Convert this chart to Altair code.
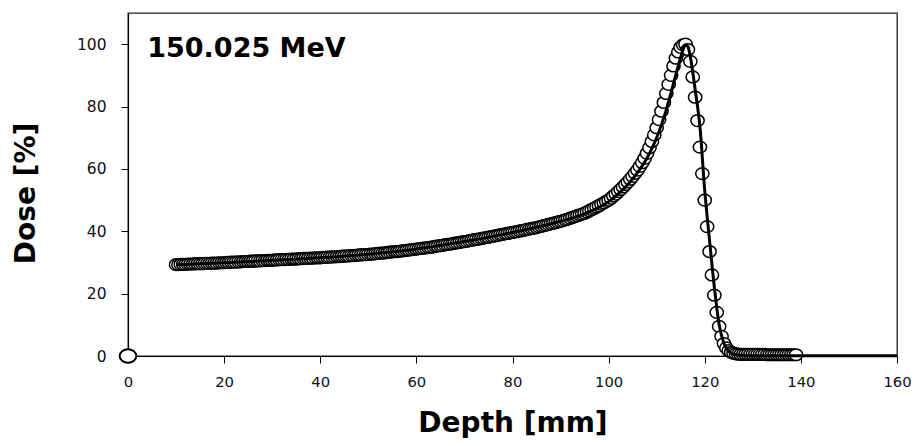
import altair as alt
import pandas as pd

# ---------------- data ----------------
# measured depth-dose points (open circles), 0.5 mm sampling from 10 mm
meas_start = 10.0
meas_step = 0.5
meas_dose = [
    29.3, 29.3, 29.4, 29.4, 29.4, 29.5, 29.5, 29.5, 29.6, 29.6,   # 10 - 14.5
    29.6, 29.6, 29.7, 29.7, 29.7, 29.8, 29.8, 29.8, 29.9, 29.9,   # 15 - 19.5
    29.9, 30.0, 30.0, 30.1, 30.1, 30.1, 30.2, 30.2, 30.3, 30.3,   # 20
    30.3, 30.4, 30.4, 30.5, 30.5, 30.5, 30.6, 30.6, 30.7, 30.7,   # 25
    30.7, 30.8, 30.8, 30.9, 30.9, 30.9, 31.0, 31.0, 31.1, 31.1,   # 30
    31.1, 31.2, 31.2, 31.3, 31.3, 31.3, 31.4, 31.4, 31.5, 31.5,   # 35
    31.5, 31.6, 31.6, 31.7, 31.7, 31.8, 31.8, 31.9, 31.9, 32.0,   # 40
    32.0, 32.1, 32.1, 32.2, 32.2, 32.3, 32.4, 32.4, 32.5, 32.5,   # 45
    32.6, 32.7, 32.7, 32.8, 32.9, 33.0, 33.0, 33.1, 33.2, 33.3,   # 50
    33.4, 33.5, 33.5, 33.6, 33.7, 33.8, 33.9, 34.0, 34.1, 34.2,   # 55
    34.3, 34.4, 34.5, 34.6, 34.7, 34.8, 34.9, 35.0, 35.2, 35.3,   # 60
    35.4, 35.5, 35.7, 35.8, 35.9, 36.0, 36.2, 36.3, 36.4, 36.6,   # 65
    36.7, 36.8, 37.0, 37.1, 37.3, 37.4, 37.5, 37.7, 37.8, 38.0,   # 70
    38.1, 38.3, 38.4, 38.6, 38.7, 38.9, 39.0, 39.2, 39.3, 39.5,   # 75
    39.6, 39.8, 39.9, 40.1, 40.2, 40.4, 40.6, 40.7, 40.9, 41.0,   # 80
    41.2, 41.4, 41.6, 41.8, 42.0, 42.2, 42.4, 42.6, 42.8, 43.0,   # 85
    43.2, 43.4, 43.7, 43.9, 44.2, 44.5, 44.7, 45.0, 45.3, 45.5,   # 90
    45.8, 46.2, 46.6, 47.0, 47.4, 47.8, 48.2, 48.7, 49.1, 49.6,   # 95
    50.0, 50.6, 51.3, 51.9, 52.7, 53.4, 54.2, 55.0, 55.8, 56.7,   # 100
    57.6, 58.6, 59.6, 60.8, 62.0, 63.4, 65.0, 66.8, 68.8, 70.9,   # 105
    73.2, 75.8, 78.5, 81.3, 84.2, 87.1, 90.0, 93.0, 95.5, 97.5,   # 110
    99.0, 99.8, 100.0, 98.3, 94.5, 89.5, 83.0, 75.5, 67.0, 58.5,  # 115
    50.0, 41.5, 33.5, 26.0, 19.5, 14.0, 9.5, 6.3, 4.0, 2.6,       # 120
    1.7, 1.2, 0.9, 0.7, 0.6, 0.5, 0.5, 0.5, 0.5, 0.5,             # 125
    0.5, 0.5, 0.5, 0.5, 0.5, 0.5, 0.4, 0.4, 0.4, 0.4,             # 130
    0.4, 0.4, 0.4, 0.4, 0.4, 0.4, 0.4, 0.4, 0.4,                  # 135 - 139
]
meas_depth = [round(meas_start + meas_step * i, 1) for i in range(len(meas_dose))]

# calculated curve (thick solid line)
calc_depth = [10, 20, 30, 40, 50, 60, 70, 80, 90, 95, 100, 102, 104, 106, 108,
              110, 111, 112, 113, 114, 115, 115.5, 116, 116.5, 117, 118, 119,
              120, 121, 122, 123, 124, 125, 126, 127, 128, 130, 140, 150, 160]
calc_dose = [29.3, 29.9, 30.7, 31.5, 32.6, 34.3, 36.7, 39.6, 43.2, 45.6, 49.5,
             52.0, 55.0, 58.8, 63.5, 70.0, 74.2, 79.0, 84.5, 90.3, 95.8, 98.3,
             99.8, 99.2, 96.0, 85.5, 73.5, 53.0, 37.0, 22.0, 10.0, 4.0, 1.5,
             0.6, 0.3, 0.2, 0.1, 0.1, 0.1, 0.1]

# point at the origin
origin_depth = [0]
origin_dose = [0]

# annotation
label_text = ["150.025 MeV"]
label_depth = [4]
label_dose = [95.8]

x_ticks = [0, 20, 40, 60, 80, 100, 120, 140, 160]
y_ticks = [0, 20, 40, 60, 80, 100]

# ---------------- chart ----------------
df_meas = pd.DataFrame({"depth": meas_depth, "dose": meas_dose})
df_calc = pd.DataFrame({"depth": calc_depth, "dose": calc_dose})
df_orig = pd.DataFrame({"depth": origin_depth, "dose": origin_dose})
df_lab = pd.DataFrame({"depth": label_depth, "dose": label_dose, "t": label_text})

FONT = "DejaVu Sans"
ellipse = "M -1 0 A 1 0.88 0 1 1 1 0 A 1 0.88 0 1 1 -1 0 Z"
origin_shape = "M -1 0 A 1 0.8 0 1 1 1 0 A 1 0.8 0 1 1 -1 0 Z"

xs = alt.Scale(domain=[0, 160], nice=False, zero=False)
ys = alt.Scale(domain=[0, 110], nice=False)

x_axis = alt.Axis(
    values=x_ticks, format="d", title="Depth [mm]", grid=False,
    tickSize=7, tickColor="black", domainColor="black", domainWidth=1.2,
    labelPadding=11, labelFont=FONT, labelFontSize=14.8, labelColor="#111",
    labelFlush=False, labelOverlap=False,
    titleFont=FONT, titleFontSize=28, titleFontWeight="bold", titleColor="black",
    titleX=384.5, titleY=75, titleBaseline="alphabetic", titleAlign="center",
)
y_axis = alt.Axis(
    values=y_ticks, format="d", title="Dose [%]", grid=False,
    tickSize=7, tickColor="black", domainColor="black", domainWidth=1.2,
    labelPadding=15, labelFont=FONT, labelFontSize=15.5, labelColor="#111",
    labelFlush=False, labelOverlap=False,
    titleFont=FONT, titleFontSize=28, titleFontWeight="bold", titleColor="black",
    titleAngle=270, titleX=-94, titleY=180, titleBaseline="alphabetic",
    titleAlign="center",
)

markers = alt.Chart(df_meas).mark_point(
    shape=ellipse, size=177, filled=True, fill="white", stroke="black",
    strokeWidth=1.5, opacity=1,
).encode(
    x=alt.X("depth:Q", scale=xs, axis=x_axis),
    y=alt.Y("dose:Q", scale=ys, axis=y_axis),
)

calc = alt.Chart(df_calc).mark_line(
    color="black", strokeWidth=3, interpolate="monotone",
).encode(
    x=alt.X("depth:Q", scale=xs),
    y=alt.Y("dose:Q", scale=ys),
)

origin = alt.Chart(df_orig).mark_point(
    shape=origin_shape, size=280, filled=True, fill="white", stroke="black",
    strokeWidth=2, opacity=1,
).encode(
    x=alt.X("depth:Q", scale=xs),
    y=alt.Y("dose:Q", scale=ys),
)

label = alt.Chart(df_lab).mark_text(
    align="left", baseline="alphabetic", font=FONT, fontWeight="bold",
    fontSize=27, color="black",
).encode(
    x=alt.X("depth:Q", scale=xs),
    y=alt.Y("dose:Q", scale=ys),
    text="t:N",
)

chart = alt.layer(markers, calc, origin, label).properties(
    width=769, height=343,
    autosize=alt.AutoSizeParams(type="none"),
    padding={"left": 120, "top": 5, "right": 14, "bottom": 82},
    background="white",
).configure_view(stroke="#222", strokeWidth=1.3)

chart.save("out.html", embed_options={"renderer": "svg", "actions": False})
